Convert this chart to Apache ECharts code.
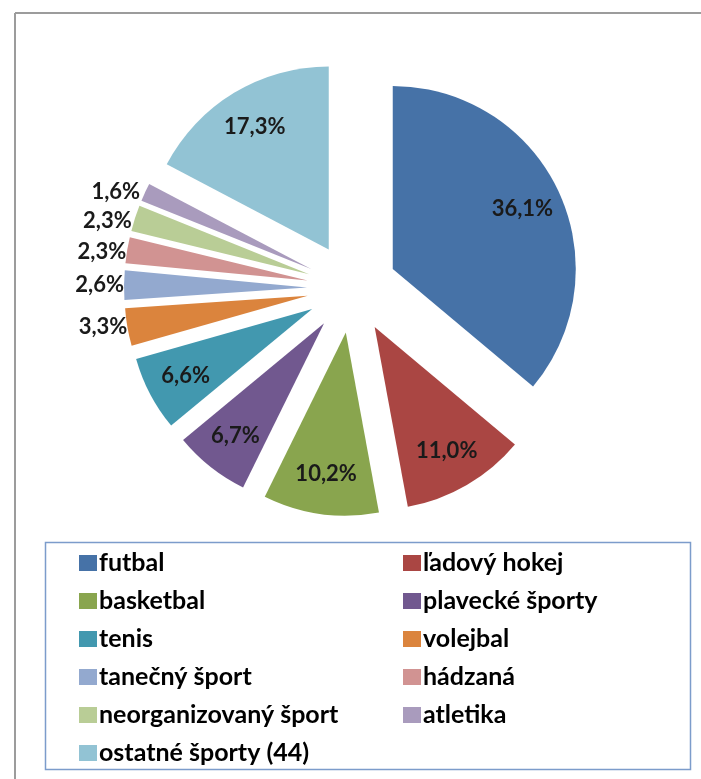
<!DOCTYPE html>
<html>
<head>
<meta charset="utf-8">
<script src="https://cdn.jsdelivr.net/npm/echarts@6/dist/echarts.min.js"></script>
<style>
  html, body { margin: 0; padding: 0; background: #ffffff; }
  #chart { width: 701px; height: 779px; }
</style>
</head>
<body>
<div id="chart"></div>
<script>
const categories = [
  'futbal', 'ľadový hokej', 'basketbal', 'plavecké športy', 'tenis', 'volejbal',
  'tanečný šport', 'hádzaná', 'neorganizovaný šport', 'atletika', 'ostatné športy (44)'
];
const values = [36.1, 11.0, 10.2, 6.7, 6.6, 3.3, 2.6, 2.3, 2.3, 1.6, 17.3];
const colors = [
  '#4672a7', '#aa4643', '#89a54e', '#71588f', '#4298af', '#db843d',
  '#93a9cf', '#d19392', '#b9cd96', '#a99bbd', '#92c3d4'
];

const fmt = v => v.toFixed(1).replace('.', ',') + '%';
const outsideLimit = 4;

const labelFont = {
  fontFamily: 'Lato, "Open Sans", sans-serif',
  fontSize: 22,
  color: '#1a1a1a',
  fontWeight: 'bold'
};

const sliceData = categories.map((name, i) => ({
  name: name,
  value: values[i],
  selected: true,
  itemStyle: { color: colors[i] },
  label: { show: values[i] < outsideLimit }
}));

const labelData = categories.map((name, i) => ({
  name: name,
  value: values[i],
  selected: true,
  label: { show: values[i] >= outsideLimit }
}));

const leftNames = categories.filter((_, i) => i % 2 === 0);
const rightNames = categories.filter((_, i) => i % 2 === 1);

const legendCommon = {
  orient: 'vertical',
  top: 550,
  itemWidth: 18,
  itemHeight: 16,
  itemGap: 12,
  icon: 'rect',
  selectedMode: false,
  padding: 0,
  textStyle: {
    fontFamily: 'Lato, "Open Sans", sans-serif',
    fontWeight: 'bold',
    fontSize: 25,
    lineHeight: 26,
    color: '#000000',
    padding: [0, 0, 0, -3]
  }
};

const chart = echarts.init(document.getElementById('chart'), null, { renderer: 'canvas' });

chart.setOption({
  animation: false,
  backgroundColor: '#ffffff',
  graphic: [
    { type: 'line', shape: { x1: 15, y1: 13, x2: 701, y2: 13 }, style: { stroke: '#9c9c9c', lineWidth: 2 }, silent: true },
    { type: 'line', shape: { x1: 15, y1: 13, x2: 15, y2: 779 }, style: { stroke: '#9c9c9c', lineWidth: 2 }, silent: true },
    { type: 'rect', shape: { x: 45.5, y: 542.5, width: 645, height: 227 }, style: { fill: 'none', stroke: '#7c9ccb', lineWidth: 1.5 }, silent: true }
  ],
  legend: [
    Object.assign({}, legendCommon, { left: 79, data: leftNames }),
    Object.assign({}, legendCommon, { left: 403, data: rightNames })
  ],
  series: [
    {
      type: 'pie',
      center: [352, 288],
      radius: 183,
      startAngle: 90,
      clockwise: true,
      selectedMode: 'multiple',
      selectedOffset: 45,
      avoidLabelOverlap: true,
      emphasis: { disabled: true, scale: false },
      itemStyle: { borderWidth: 0 },
      label: Object.assign({ position: 'outside', formatter: p => fmt(p.value) }, labelFont),
      labelLine: { show: false, length: 0, length2: 0 },
      data: sliceData
    },
    {
      type: 'pie',
      center: [352, 288],
      radius: 280,
      startAngle: 90,
      clockwise: true,
      selectedMode: 'multiple',
      selectedOffset: 45,
      silent: true,
      emphasis: { disabled: true, scale: false },
      itemStyle: { color: 'rgba(0,0,0,0)', borderWidth: 0 },
      label: Object.assign({ position: 'inside', formatter: p => fmt(p.value) }, labelFont),
      labelLine: { show: false },
      data: labelData
    }
  ]
});
</script>
</body>
</html>
